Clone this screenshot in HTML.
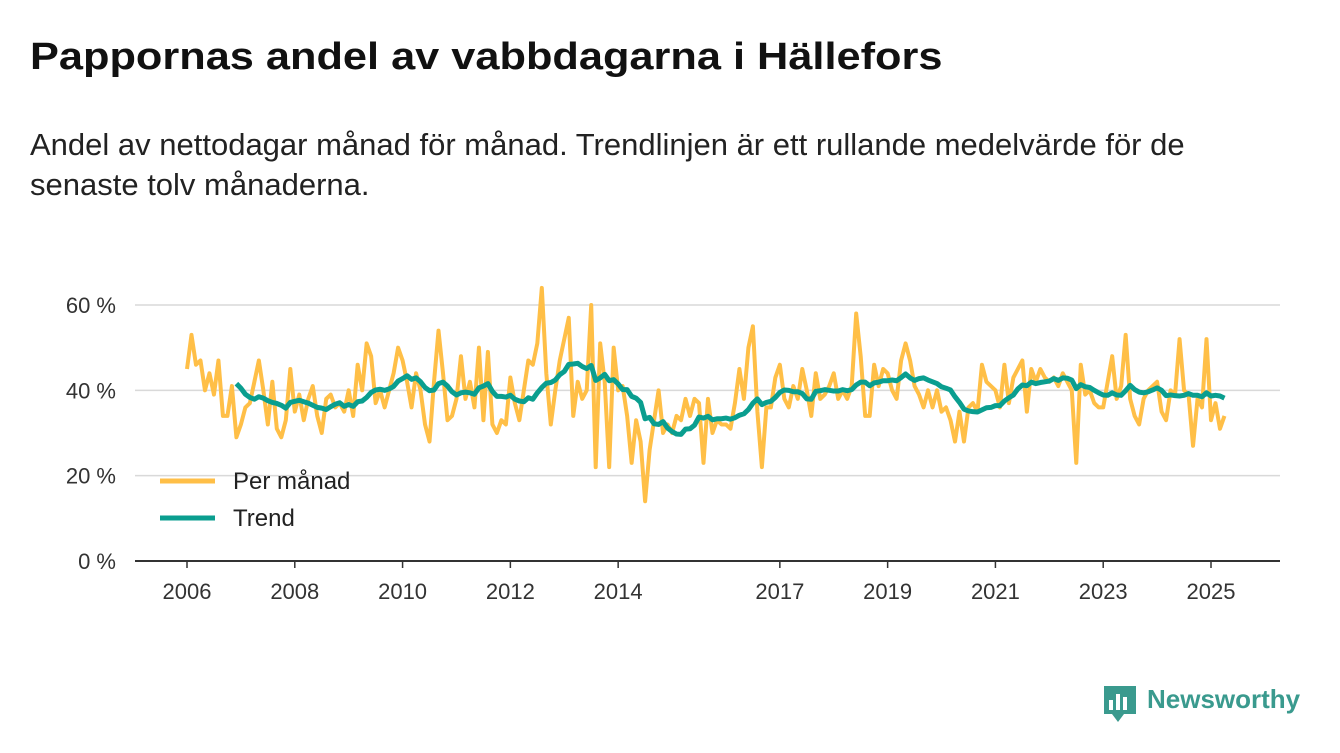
<!DOCTYPE html>
<html><head><meta charset="utf-8"><style>
body{margin:0;background:#fff;font-family:"Liberation Sans",sans-serif;color:#111;}
#wrap{position:relative;width:1340px;height:753px;overflow:hidden;}
h1{position:absolute;left:30px;top:36px;margin:0;font-size:38px;font-weight:bold;transform:scaleX(1.14);transform-origin:0 0;white-space:nowrap;}
#sub{position:absolute;left:30px;top:125px;margin:0;font-size:31px;line-height:40px;width:1250px;color:#222;}
svg{position:absolute;left:0;top:0;}
</style></head><body>
<div id="wrap">
<h1>Pappornas andel av vabbdagarna i Hällefors</h1>
<p id="sub">Andel av nettodagar månad för månad. Trendlinjen är ett rullande medelvärde för de senaste tolv månaderna.</p>
<svg id="chart" width="1340" height="753"></svg>
</div>
<script>
const startYear = 2006;
const monthly = [
45,53,46,47,40,44,39,47,34,34,41,29,
32,36,37,42,47,40,32,42,31,29,33,45,
35,39,33,38,41,34,30,38,39,36,37,35,
40,34,46,40,51,48,37,40,36,40,44,50,
47,42,36,44,40,32,28,42,54,44,33,34,
38,48,38,42,36,50,33,49,32,30,33,32,
43,37,33,40,47,46,51,64,44,32,40,47,
52,57,34,42,38,40,60,22,51,42,22,50,
40,41,34,23,33,28,14,26,33,40,30,32,
30,34,33,38,34,38,37,23,38,30,33,32,
32,31,37,45,38,50,55,35,22,36,36,43,
46,38,36,41,38,45,40,34,44,38,39,41,
44,38,40,38,41,58,48,34,34,46,41,45,
44,40,38,47,51,47,41,39,36,40,36,40,
35,36,33,28,35,28,36,37,35,46,42,41,
40,36,46,37,43,45,47,35,45,42,45,43,
42,43,41,44,42,40,23,46,39,40,37,36,
36,42,48,38,41,53,38,34,32,38,40,41,
42,35,33,40,39,52,40,39,27,38,36,52,
33,37,31,34
];
const yTicks = [0,20,40,60];
const xTickYears = [2006,2008,2010,2012,2014,2017,2019,2021,2023,2025];
const seriesNames = ["Per månad","Trend"];

const NS="http://www.w3.org/2000/svg";
const svg=document.getElementById('chart');
const x0=187, pxPerYear=(1211-187)/19;
const xs=m=>x0+m*pxPerYear/12;
const ys=v=>561-v*(561-305)/60;
function mk(t,a){const e=document.createElementNS(NS,t);for(const k in a)e.setAttribute(k,a[k]);svg.appendChild(e);return e;}

yTicks.forEach(v=>{
  const l=mk('line',{x1:135,x2:1280,y1:ys(v),y2:ys(v),stroke:v===0?'#333':'#d9d9d9','stroke-width':v===0?2:1.5});
  
  
  const t=mk('text',{x:116,y:ys(v)+8,'text-anchor':'end','font-size':22,fill:'#333'});
  t.textContent=v+' %';
  
  
});
xTickYears.forEach(yr=>{
  const x=xs((yr-startYear)*12);
  const tk=mk('line',{x1:x,x2:x,y1:561,y2:568,stroke:'#333','stroke-width':1.5});
  
  
  const t=mk('text',{x:x,y:599,'text-anchor':'middle','font-size':22,fill:'#333'});
  t.textContent=yr;
  
  
});

const trend=[];
for(let i=11;i<monthly.length;i++){let s=0;for(let j=i-11;j<=i;j++)s+=monthly[j];trend.push([i,s/12]);}

const p1=mk('polyline',{points:monthly.map((v,i)=>xs(i)+','+ys(v)).join(' '),fill:'none',stroke:'#ffbf47','stroke-width':4,'stroke-linejoin':'round'});


const p2=mk('polyline',{points:trend.map(d=>xs(d[0])+','+ys(d[1])).join(' '),fill:'none',stroke:'#0a9e8f','stroke-width':5,'stroke-linejoin':'round'});



[['#ffbf47',481],['#0a9e8f',518]].forEach((c,k)=>{
  const l=mk('line',{x1:160,x2:215,y1:c[1],y2:c[1],stroke:c[0],'stroke-width':5});
  
  
  const t=mk('text',{x:233,y:c[1]+8,'font-size':24,fill:'#222'});
  t.textContent=seriesNames[k];
  
  
});

const g=mk('g',{});


g.innerHTML='<path d="M1104 686h32v28h-12l-6 8-6-8h-8z" fill="#3a9a8e"/><rect x="1109" y="700" width="4" height="10" fill="#fff"/><rect x="1116" y="694" width="4" height="16" fill="#fff"/><rect x="1123" y="697" width="4" height="13" fill="#fff"/><text x="1147" y="708" font-size="26" font-weight="bold" fill="#3a9a8e">Newsworthy</text>';
</script>
</body></html>
